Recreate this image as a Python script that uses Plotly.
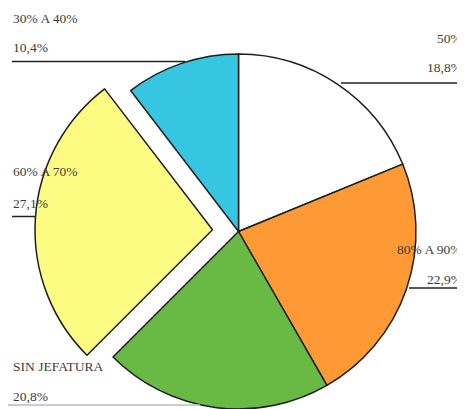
import plotly.graph_objects as go

categories = ["50%", "80% A 90%", "SIN JEFATURA", "60% A 70%", "30% A 40%"]
values = [18.8, 22.9, 20.8, 27.1, 10.4]
value_labels = ["18,8%", "22,9%", "20,8%", "27,1%", "10,4%"]
colors = ["#FFFFFF", "#FE9A35", "#68BA44", "#FCFC82", "#36C6E1"]
pulled = "60% A 70%"

WIN_W, WIN_H = 465, 409
OFF = 8  # page body margin
W, H = WIN_W - OFF, WIN_H - OFF
TRANSP = "rgba(0,0,0,0)"
OUT = "#1e1e1e"


def px(x):
    return max(0.0, min(1.0, (x - OFF) / W))


def py(y):
    return max(0.0, min(1.0, (WIN_H - y) / H))


base_colors = [TRANSP if c == pulled else col for c, col in zip(categories, colors)]
base_lw = [0 if c == pulled else 1.5 for c in categories]
pull_colors = [col if c == pulled else TRANSP for c, col in zip(categories, colors)]
pull_lw = [1.5 if c == pulled else 0 for c in categories]


def dom(cx, cy, r):
    return dict(x=[px(cx - r), px(cx + r)], y=[py(cy + r), py(cy - r)])


fig = go.Figure()
fig.add_trace(go.Pie(labels=categories, values=values, sort=False, direction="clockwise",
                     rotation=0, textinfo="none", hoverinfo="label+percent",
                     marker=dict(colors=base_colors, line=dict(color=OUT, width=base_lw)),
                     domain=dom(238.5, 231.5, 177.5), showlegend=False))
fig.add_trace(go.Pie(labels=categories, values=values, sort=False, direction="clockwise",
                     rotation=0, textinfo="none", hoverinfo="label+percent",
                     marker=dict(colors=pull_colors, line=dict(color=OUT, width=pull_lw)),
                     domain=dom(212.5, 229.8, 177.5), showlegend=False))

font = dict(family="Liberation Serif, DejaVu Serif, serif", size=13.5, color="#3c3c3c")

# label placements: (anchor, x, y_name, y_value, line)
placements = {
    "30% A 40%": ("left", 11, 18, 47, (12, 185, 61.5, "#222")),
    "50%": ("right", 464, 38, 67, (341, 465, 83, "#222")),
    "60% A 70%": ("left", 11, 172, 203, (12, 35, 216.5, "#222")),
    "80% A 90%": ("right", 464, 250, 279, (409, 465, 288, "#222")),
    "SIN JEFATURA": ("left", 11, 366, 396, (0, 200, 405, "#bbbbbb")),
}

for cat, lab in zip(categories, value_labels):
    anchor, x, yn, yv, (x0, x1, yl, lc) = placements[cat]
    for txt, yy in ((cat, yn), (lab, yv)):
        fig.add_annotation(text=txt, x=px(x), y=py(yy), xref="paper", yref="paper",
                           xanchor=anchor, yanchor="middle", showarrow=False, font=font)
    fig.add_shape(type="line", xref="paper", yref="paper",
                  x0=px(x0), x1=px(x1), y0=py(yl), y1=py(yl),
                  line=dict(color=lc, width=1.5))

fig.update_layout(width=W, height=H, margin=dict(l=0, r=0, t=0, b=0),
                  paper_bgcolor="white", plot_bgcolor="white")

fig.write_html("out.html")
